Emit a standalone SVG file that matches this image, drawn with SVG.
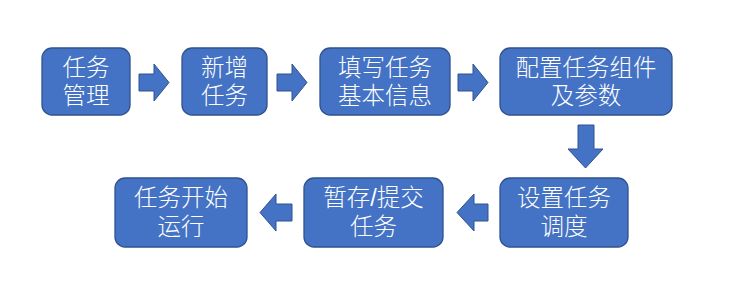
<svg xmlns="http://www.w3.org/2000/svg" width="739" height="300" viewBox="0 0 739 300">
<style>
.box{fill:#4472C4;stroke:#2F528F;stroke-width:1.3}
.arr{fill:#4472C4;stroke:#2F528F;stroke-width:1}
.t{font-family:"Liberation Sans","Noto Sans CJK SC",sans-serif;font-size:23.5px;font-weight:300;fill:#fff;text-anchor:middle;dominant-baseline:central}
</style>
<rect width="739" height="300" fill="#fff"/>
<g id="n1"><rect class="box" x="42" y="48" width="88" height="67" rx="10"/><text class="t" x="86" y="68">任务</text><text class="t" x="86" y="96">管理</text></g>
<g id="n2"><rect class="box" x="182" y="48" width="85" height="67" rx="10"/><text class="t" x="224.5" y="68">新增</text><text class="t" x="224.5" y="96">任务</text></g>
<g id="n3"><rect class="box" x="320" y="48" width="130" height="67" rx="10"/><text class="t" x="385" y="68">填写任务</text><text class="t" x="385" y="96">基本信息</text></g>
<g id="n4"><rect class="box" x="500" y="48" width="172" height="67" rx="10"/><text class="t" x="586" y="68">配置任务组件</text><text class="t" x="586" y="96">及参数</text></g>
<g id="n5"><rect class="box" x="500" y="178" width="128" height="69" rx="10"/><text class="t" x="564" y="198">设置任务</text><text class="t" x="564" y="227">调度</text></g>
<g id="n6"><rect class="box" x="304" y="178" width="139" height="69" rx="10"/><text class="t" x="373.5" y="198">暂存/提交</text><text class="t" x="373.5" y="227">任务</text></g>
<g id="n7"><rect class="box" x="115" y="178" width="132" height="69" rx="10"/><text class="t" x="181" y="198">任务开始</text><text class="t" x="181" y="227">运行</text></g>
<g id="connectors">
<polygon class="arr" points="139,74 154,74 154,64 169,82.5 154,101 154,91 139,91"/>
<polygon class="arr" points="277,74 292,74 292,64 307,82.5 292,101 292,91 277,91"/>
<polygon class="arr" points="458,74 473,74 473,64 488,82.5 473,101 473,91 458,91"/>
<polygon class="arr" points="578,125 594,125 594,149 603,149 585.5,168 568,149 578,149"/>
<polygon class="arr" points="488,204 474,204 474,194 457,212.5 474,231 474,221 488,221"/>
<polygon class="arr" points="292,204 276,204 276,194 260,212.5 276,231 276,221 292,221"/>
</g>
</svg>
